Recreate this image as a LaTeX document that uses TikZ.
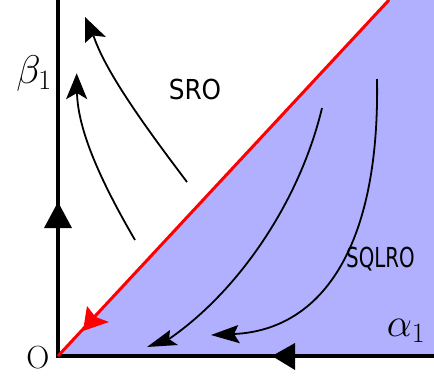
\documentclass[tikz,border=0pt]{standalone}
\usepackage{fix-cm}
\usepackage{fontspec}
\newfontfamily\dejavuA[FakeStretch=0.9]{DejaVu Sans}
\newfontfamily\dejavuB[FakeStretch=0.72]{DejaVu Sans}
\definecolor{regblue}{RGB}{176,176,255}
\begin{document}
\begin{tikzpicture}[x=1pt,y=-1pt,
  flow/.style={line width=1.8pt},
  lblA/.style={font=\dejavuA\fontsize{27.5}{27.5}\selectfont,inner sep=0pt},
  lblB/.style={font=\dejavuB\fontsize{27.5}{27.5}\selectfont,inner sep=0pt},
  mlbl/.style={font=\fontsize{40}{40}\selectfont,inner sep=0pt}]
\useasboundingbox (0,0) rectangle (434,381);
\coordinate (O) at (58,356);
\coordinate (Rtop) at (389,0);
\coordinate (Ytop) at (58,0);
\coordinate (Xend) at (434,356);
% region
\fill[regblue] (O) -- (Rtop) -- (434,0) -- (Xend) -- cycle;
% axes
\draw[line width=4pt] (Ytop) -- (58,358);
\draw[line width=4pt] (56,356) -- (Xend);
% axis arrows
\fill (58,202) -- (72,228) -- (44,228) -- cycle;
\fill (272,356) -- (295,343) -- (295,370) -- cycle;
% red line
\draw[red,line width=3pt] (O) -- (Rtop);
\fill[red] (83,331) -- (87,306) -- (95.5,317) -- (109,322) -- cycle;
% flow curves
\coordinate (a1) at (135,240); \coordinate (a2) at (77,93);
\coordinate (b1) at (187,182); \coordinate (b2) at (93.4,35.5);
\coordinate (c1) at (322,108); \coordinate (c2) at (169,339);
\coordinate (d1) at (377,79);  \coordinate (d2) at (234,334);
\draw[flow] (a1) .. controls (100,180) and (78,130) .. (a2);
\draw[flow] (b1) .. controls (140,120) and (105,70) .. (b2);
\draw[flow] (c1) .. controls (300,200) and (240,290) .. (c2);
\draw[flow] (d1) .. controls (380,250) and (320,330) .. (d2);
% arrowheads
\fill (76.7,73.3) -- (66,99.3) -- (a2) -- (87.3,99.3) -- cycle;
\fill (85,17) -- (85,43) -- (b2) -- (106,37) -- cycle;
\fill (147,347) -- (178,345) -- (c2) -- (170,330) -- cycle;
\fill (211,335) -- (240,343.3) -- (d2) -- (238.3,325) -- cycle;
% labels
\node[lblA] (sro) at (195,89.5) {SRO};
\node[lblB] (sqlro) at (380.5,259) {SQLRO};
\node[mlbl] (beta) at (34,73) {$\beta_1$};
\node[mlbl] (alpha) at (406,331) {$\alpha_1$};
\node[font=\fontsize{32}{32}\selectfont,inner sep=0pt] (o) at (38,358) {O};
\end{tikzpicture}
\end{document}
